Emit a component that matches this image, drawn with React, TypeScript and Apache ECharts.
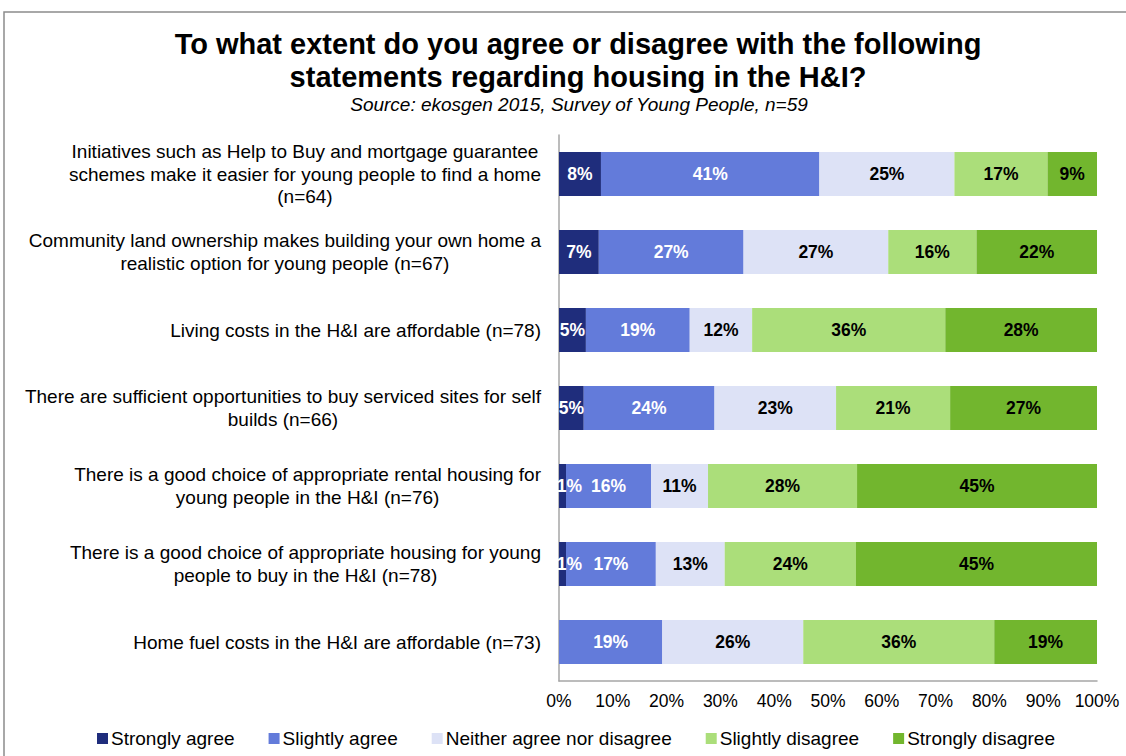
import React, { useEffect, useRef } from "react";
import * as echarts from "echarts";

const categories = [
  "Initiatives such as Help to Buy and mortgage guarantee\nschemes make it easier for young people to find a home\n(n=64)",
  "Community land ownership makes building your own home a\nrealistic option for young people (n=67)",
  "Living costs in the H&I are affordable (n=78)",
  "There are sufficient opportunities to buy serviced sites for self\nbuilds (n=66)",
  "There is a good choice of appropriate rental housing for\nyoung people in the H&I (n=76)",
  "There is a good choice of appropriate housing for young\npeople to buy in the H&I (n=78)",
  "Home fuel costs in the H&I are affordable (n=73)",
];

const seriesNames = [
  "Strongly agree",
  "Slightly agree",
  "Neither agree nor disagree",
  "Slightly disagree",
  "Strongly disagree",
];

const stronglyAgree = [7.8, 7.4, 5.0, 4.6, 1.3, 1.3, 0];
const slightlyAgree = [40.6, 26.9, 19.3, 24.3, 15.8, 16.7, 19.2];
const neither = [25.1, 26.9, 11.6, 22.6, 10.6, 12.8, 26.2];
const slightlyDisagree = [17.3, 16.4, 35.9, 21.2, 27.7, 24.4, 35.5];
const stronglyDisagree = [9.2, 22.4, 28.2, 27.3, 44.6, 44.8, 19.1];

const xTicks = ["0%", "10%", "20%", "30%", "40%", "50%", "60%", "70%", "80%", "90%", "100%"];

const colors = ["#1F2D7C", "#637BDA", "#DDE2F6", "#ABDE7A", "#72B62E"];
const labelColors = ["#FFFFFF", "#FFFFFF", "#000000", "#000000", "#000000"];

const FONT = "'Liberation Sans', Arial, sans-serif";

export default function App() {
  const ref = useRef<HTMLDivElement>(null);

  useEffect(() => {
    if (!ref.current) return;
    const chart = echarts.init(ref.current, undefined, { renderer: "svg" });
    const values = [stronglyAgree, slightlyAgree, neither, slightlyDisagree, stronglyDisagree];

    const rich: Record<string, any> = {
      c: {
        align: "center",
        fontSize: 19,
        lineHeight: 22.5,
        color: "#000",
        fontFamily: FONT,
      },
    };

    chart.setOption({
      animation: false,
      backgroundColor: "#FFFFFF",
      textStyle: { fontFamily: FONT },
      title: [
        {
          text: "To what extent do you agree or disagree with the following\nstatements regarding housing in the H&I?",
          left: 573,
          textAlign: "center",
          top: 22,
          textStyle: {
            fontSize: 29,
            fontWeight: "bold",
            color: "#000",
            lineHeight: 33,
            fontFamily: FONT,
          },
        },
        {
          text: "Source: ekosgen 2015, Survey of Young People, n=59",
          left: 574,
          textAlign: "center",
          top: 88,
          textStyle: {
            fontSize: 19,
            lineHeight: 22,
            fontStyle: "italic",
            fontWeight: "normal",
            color: "#000",
            fontFamily: FONT,
          },
        },
      ],
      graphic: [
        {
          type: "polyline",
          shape: { points: [[4, 760], [4, 12], [1130, 12]] },
          style: { stroke: "#8C8C8C", lineWidth: 1.5, fill: "none" },
          silent: true,
        },
      ],
      legend: {
        data: seriesNames,
        left: 92,
        top: 724,
        itemWidth: 11,
        itemHeight: 11,
        itemGap: 34,
        icon: "rect",
        textStyle: { fontSize: 19, color: "#000", fontFamily: FONT, padding: [0, 0, 0, -2] },
      },
      grid: {
        left: 559,
        right: 29,
        top: 135,
        height: 546,
        containLabel: false,
      },
      xAxis: {
        type: "value",
        min: 0,
        max: 100,
        interval: 10,
        axisLine: { show: true, lineStyle: { color: "#A6A6A6", width: 1.5 } },
        axisTick: { show: false },
        splitLine: { show: false },
        axisLabel: {
          fontSize: 17.5,
          color: "#000",
          margin: 11,
          fontFamily: FONT,
          formatter: (v: number) => xTicks[Math.round(v / 10)],
        },
      },
      yAxis: {
        type: "category",
        inverse: true,
        data: categories,
        axisLine: { show: true, lineStyle: { color: "#A6A6A6", width: 1.5 } },
        axisTick: { show: false },
        axisLabel: {
          align: "right",
          margin: 18,
          fontSize: 19,
          lineHeight: 22.5,
          color: "#000",
          fontFamily: FONT,
          formatter: (v: string) =>
            v
              .split("\n")
              .map((l) => `{c|${l}}`)
              .join("\n"),
          rich,
        },
      },
      series: seriesNames.map((name, i) => ({
        name,
        type: "bar",
        stack: "total",
        barWidth: 44,
        data: values[i].map((v) =>
          i === 0 && v > 0 && v < 3 ? { value: v, label: { offset: [7, 0] } } : v
        ),
        itemStyle: { color: colors[i] },
        label: {
          show: true,
          position: "inside",
          color: labelColors[i],
          fontSize: 17.5,
          fontWeight: "bold",
          fontFamily: FONT,
          formatter: (p: any) => (p.value > 0 ? `${Math.round(p.value)}%` : ""),
        },
      })),
    });

    return () => chart.dispose();
  }, []);

  return (
    <div
      ref={ref}
      style={{ position: "fixed", left: 0, top: 0, width: 1126, height: 756 }}
    />
  );
}
